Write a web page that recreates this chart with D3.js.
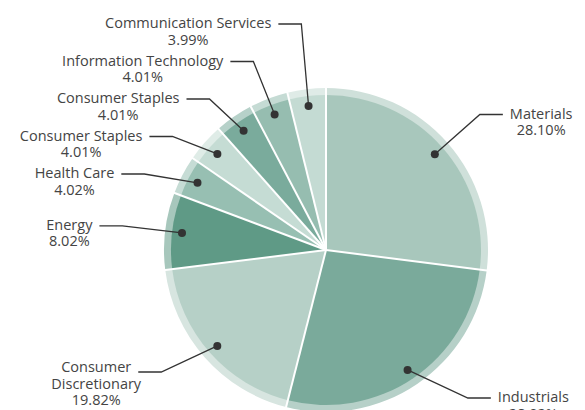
<!DOCTYPE html>
<html>
<head>
<meta charset="utf-8">
<script src="https://cdn.jsdelivr.net/npm/d3@7"></script>
<style>
  body { margin: 0; background: #fff; }
</style>
</head>
<body>
<div id="chart"></div>
<script>
// sector weights, clockwise from 12 o'clock
const sectors = ["Materials", "Industrials", "Consumer\nDiscretionary", "Energy", "Health Care",
  "Consumer Staples", "Consumer Staples", "Information Technology", "Communication Services"];
const weights = [28.10, 28.02, 19.82, 8.02, 4.02, 4.01, 4.01, 4.01, 3.99];
const palette = ["#a8c7bc", "#7aaa9b", "#b6d0c7", "#5f9a86", "#97bfb2",
  "#c5dcd4", "#7aab9c", "#96bdb0", "#c4dbd3"];

const width = 585, height = 410;
const cx = 326, cy = 250, r = 155, ringR = 162;
const fmt = d3.format(".2f");

const svg = d3.select("#chart").append("svg")
  .attr("width", width)
  .attr("height", height)
  .style("font-family", "'Open Sans', sans-serif");

const data = sectors.map((s, i) => ({name: s, w: weights[i], color: palette[i]}));
const arcs = d3.pie().sort(null).value(d => d.w)(data);

const g = svg.append("g").attr("transform", `translate(${cx},${cy})`);

const ringArc = d3.arc().innerRadius(r - 1).outerRadius(ringR);
const sliceArc = d3.arc().innerRadius(0).outerRadius(r);

g.selectAll(".ring").data(arcs).join("path")
  .attr("class", "ring")
  .attr("d", ringArc)
  .attr("fill", d => d3.interpolateRgb(d.data.color, "#fff")(0.45));

g.selectAll(".slice").data(arcs).join("path")
  .attr("class", "slice")
  .attr("d", sliceArc)
  .attr("fill", d => d.data.color);

g.selectAll(".sep").data(arcs).join("line")
  .attr("class", "sep")
  .attr("x1", 0).attr("y1", 0)
  .attr("x2", d => (ringR + 2) * Math.sin(d.startAngle))
  .attr("y2", d => -(ringR + 2) * Math.cos(d.startAngle))
  .attr("stroke", "#fff")
  .attr("stroke-width", 2);

// label layout
const dotArc = d3.arc().innerRadius(145).outerRadius(145);
const labelR = 205, gap = 37.5, topY = 24, lineH = 16.5;

const labels = arcs.map(d => {
  const a = (d.startAngle + d.endAngle) / 2;
  const lines = d.data.name.split("\n").concat([fmt(d.data.w) + "%"]);
  const side = Math.sin(a) >= 0 ? 1 : -1;
  const maxY = height - 12 - 26 * (lines.length - 2);
  let y = cy - labelR * Math.cos(a);
  let x = cx + labelR * Math.sin(a);
  if (y > maxY) {
    y = maxY;
    x = cx + side * Math.sqrt(labelR * labelR - (y - cy) * (y - cy));
  }
  const [dx, dy] = dotArc.centroid(d);
  return {lines, side, x, y, ideal: y, dot: [cx + dx, cy + dy]};
});

function spread(items) {
  items.sort((a, b) => a.ideal - b.ideal);
  let clusters = items.map(d => [d]);
  const place = c => {
    const mean = d3.mean(c, d => d.ideal);
    let start = mean - (c.length - 1) * gap / 2;
    start = Math.max(start, topY);
    c.forEach((d, i) => d.y = start + i * gap);
  };
  let merged = true;
  while (merged) {
    merged = false;
    clusters.forEach(place);
    for (let i = 0; i < clusters.length - 1; i++) {
      const a = clusters[i], b = clusters[i + 1];
      if (a[a.length - 1].y + gap > b[0].y) {
        clusters.splice(i, 2, a.concat(b));
        merged = true;
        break;
      }
    }
  }
  clusters.forEach(place);
}
spread(labels.filter(d => d.side < 0));
spread(labels.filter(d => d.side > 0));

const lab = svg.selectAll(".label").data(labels).join("g").attr("class", "label");

lab.append("polyline")
  .attr("points", d => [d.dot, [d.x, d.y], [d.x + d.side * 23, d.y]].map(p => p.join(",")).join(" "))
  .attr("fill", "none")
  .attr("stroke", "#333")
  .attr("stroke-width", 1.3);

lab.append("circle")
  .attr("cx", d => d.dot[0])
  .attr("cy", d => d.dot[1])
  .attr("r", 4)
  .attr("fill", "#333");

lab.each(function(d) {
  const t = d3.select(this).append("text")
    .attr("text-anchor", "middle")
    .attr("font-size", 14.5)
    .attr("fill", "#444");
  t.selectAll("tspan").data(d.lines).join("tspan")
    .attr("dy", (l, i) => i ? lineH : 0)
    .text(l => l);
  const w = t.select("tspan").node().getComputedTextLength();
  const tx = d.x + d.side * (23 + 7 + w / 2);
  // taller blocks sit a little higher on their leader line
  t.attr("y", d.y + 4 - 4 * (d.lines.length - 2)).selectAll("tspan").attr("x", tx);
});
</script>
</body>
</html>
